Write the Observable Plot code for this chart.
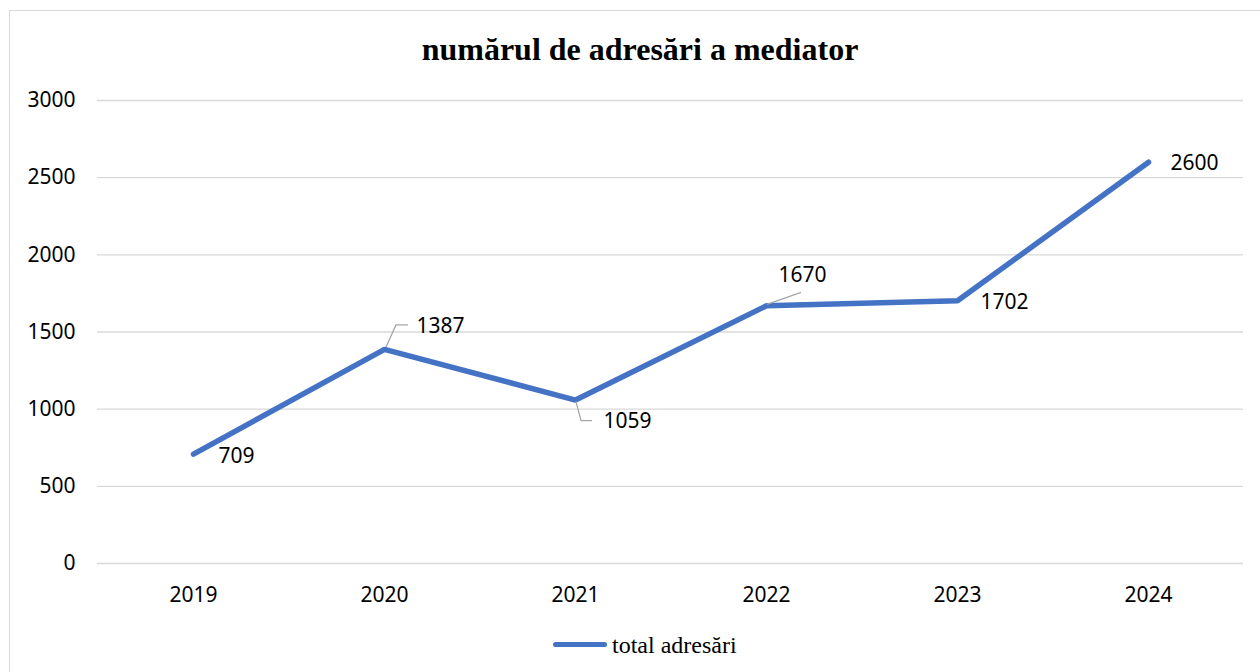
<!DOCTYPE html>
<html>
<head>
<meta charset="utf-8">
<script src="https://cdn.jsdelivr.net/npm/d3@7"></script>
<script src="https://cdn.jsdelivr.net/npm/@observablehq/plot@0.6"></script>
<style>
  html, body { margin: 0; padding: 0; background: #fff; }
  body { width: 1260px; height: 672px; overflow: hidden; position: relative; }
  #frame { position: absolute; left: 9px; top: 10px; width: 1400px; height: 800px; border: 1px solid #d9d9d9; box-sizing: border-box; }
  #title { position: absolute; left: 0; width: 1280px; top: 33px; text-align: center; font-family: "Liberation Serif", serif; font-weight: bold; font-size: 32px; line-height: 32px; color: #000; }
  #chart { position: absolute; left: 0; top: 80px; }
  #legend-line { position: absolute; left: 553px; top: 642px; width: 54px; height: 5px; border-radius: 3px; background: #4472C4; }
  #legend-text { position: absolute; left: 612px; top: 633px; font-family: "Liberation Serif", serif; font-size: 24px; line-height: 24px; color: #000; white-space: nowrap; }
</style>
</head>
<body>
<div id="frame"></div>
<div id="title">numărul de adresări a mediator</div>
<div id="chart"></div>
<div id="legend-line"></div>
<div id="legend-text">total adresări</div>
<script>
const years = ["2019", "2020", "2021", "2022", "2023", "2024"];
const totals = [709, 1387, 1059, 1670, 1702, 2600];
const yTicks = [0, 500, 1000, 1500, 2000, 2500, 3000];

// label placement (pixel offsets from each point), styling only
const labelOffsets = [[25, 2], [32, -23], [28, 21], [12, -30], [23, 1], [22, 1]];
// leader lines (pixel offsets from point), for labels 1387, 1059, 1670
const leaders = [
  {i: 1, pts: [[2, -2], [12, -24], [24, -24]]},
  {i: 2, pts: [[1, 2], [6, 21], [17, 21]]},
  {i: 3, pts: [[1, -1], [35, -13]]}
];

const data = years.map((y, i) => ({year: y, value: totals[i]}));

const labelMarks = data.map((d, i) => Plot.text([d], {
  x: "year", y: "value", text: d => String(d.value),
  dx: labelOffsets[i][0], dy: labelOffsets[i][1],
  textAnchor: "start", fill: "#000"
}));

const chart = Plot.plot({
  width: 1260,
  height: 530,
  marginLeft: 97,
  marginRight: 17,
  marginTop: 20,
  marginBottom: 47,
  style: {fontFamily: "'Noto Sans', sans-serif", fontSize: "21px", color: "#000", background: "transparent", overflow: "visible"},
  x: {type: "point", domain: years, padding: 0.5, tickSize: 0, tickPadding: 24, label: null},
  y: {domain: [0, 3000], ticks: yTicks, tickSize: 0, tickPadding: 22, label: null, tickFormat: d => String(d)},
  marks: [
    Plot.ruleY(yTicks, {stroke: "#d9d9d9", strokeWidth: 1.3}),
    Plot.line(data, {x: "year", y: "value", stroke: "#4472C4", strokeWidth: 5.5, strokeLinejoin: "miter", strokeLinecap: "round"}),
    ...labelMarks
  ]
});

document.getElementById("chart").appendChild(chart);

// leader lines drawn with the plot's own scales
const sx = chart.scale("x"), sy = chart.scale("y");
const svg = d3.select(chart.tagName.toLowerCase() === "svg" ? chart : chart.querySelector("svg"));
for (const l of leaders) {
  const d = data[l.i];
  const px = sx.apply(d.year), py = sy.apply(d.value);
  svg.append("polyline")
    .attr("points", l.pts.map(([dx, dy]) => `${px + dx},${py + dy}`).join(" "))
    .attr("fill", "none")
    .attr("stroke", "#a6a6a6")
    .attr("stroke-width", 1.3);
}
</script>
</body>
</html>
